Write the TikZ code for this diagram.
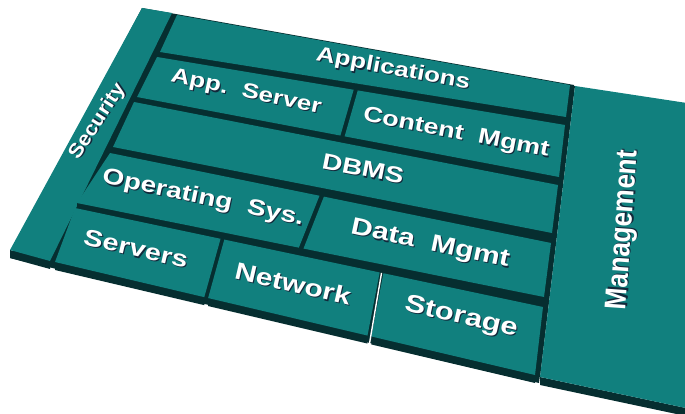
\documentclass[tikz,border=0pt]{standalone}
\usepackage{fontspec}
\setsansfont{Liberation Sans}
\usetikzlibrary{calc}
\definecolor{tealtop}{RGB}{17,128,126}
\definecolor{tealside}{RGB}{6,46,48}
\definecolor{txtshade}{RGB}{18,40,58}
\newcommand{\shtxt}[1]{\makebox[0pt][l]{\textcolor{txtshade}{\raisebox{-1.3pt}{\kern1.3pt#1}}}#1}
\newcommand{\brick}[4]{%
  \fill[brickside] (#4) -- (#3) -- ($(#3)+(0,8)$) -- ($(#4)+(0,8)$) -- cycle;
  \fill[bricktop] (#1) -- (#2) -- (#3) -- (#4) -- cycle;}
\tikzset{
  bricktop/.style={fill=tealtop},
  brickside/.style={fill=tealside},
  lbl/.style={font=\fontsize{#1}{#1}\selectfont\sffamily\bfseries, text=white, inner sep=0pt},
  flat/.style={rotate=#1, yscale=.8},
}
\begin{document}
\begin{tikzpicture}[x=1pt,y=-1pt]
\useasboundingbox (0,0) rectangle (685,414);
\clip (0,0) rectangle (685,414);
% row edges: left end at the security strip, right end at the management gap
\coordinate (a-tl) at (177,15);  \coordinate (a-tr) at (570,85);
\coordinate (a-bl) at (160,52);  \coordinate (a-br) at (566,117);
\coordinate (b-tl) at (157,57);  \coordinate (b-tr) at (565,125);
\coordinate (b-bl) at (137,97);  \coordinate (b-br) at (559,177);
\coordinate (c-tl) at (134,102); \coordinate (c-tr) at (558,185);
\coordinate (c-bl) at (113,147); \coordinate (c-br) at (552,233);
\coordinate (d-tl) at (110,153); \coordinate (d-tr) at (551,243);
\coordinate (d-bl) at (77,203);  \coordinate (d-br) at (544,297);
\coordinate (e-tl) at (75,208);  \coordinate (e-tr) at (543,307);
\coordinate (e-bl) at (55,262);  \coordinate (e-br) at (535,375);
% security strip and management block
\coordinate (s-tl) at (142,8);   \coordinate (s-tr) at (172,13);
\coordinate (s-bl) at (10,250);  \coordinate (s-br) at (50,261);
\coordinate (m-tl) at (575,86);  \coordinate (m-tr) at (700,105);
\coordinate (m-bl) at (540,377); \coordinate (m-br) at (700,411);
% split points inside the rows
\foreach \r/\t/\n in {b/.482/1, b/.492/2, d/.475/1, d/.485/2, e/.311/1, e/.319/2, e/.651/3, e/.659/4}{
  \coordinate (\r-t\n) at ($(\r-tl)!\t!(\r-tr)$);
  \coordinate (\r-b\n) at ($(\r-bl)!\t!(\r-br)$);
}
% dark base under the slab
\fill[brickside] (s-tl) -- ($(a-tr)+(4,0)$) -- ($(e-br)+(4,8)$) -- ($(s-bl)+(0,8)$) -- cycle;
% bricks
\brick{s-tl}{s-tr}{s-br}{s-bl}
\brick{a-tl}{a-tr}{a-br}{a-bl}
\brick{b-tl}{b-t1}{b-b1}{b-bl}
\brick{b-t2}{b-tr}{b-br}{b-b2}
\brick{c-tl}{c-tr}{c-br}{c-bl}
\brick{d-tl}{d-t1}{d-b1}{d-bl}
\brick{d-t2}{d-tr}{d-br}{d-b2}
\brick{e-tl}{e-t1}{e-b1}{e-bl}
\brick{e-t2}{e-t3}{e-b3}{e-b2}
\brick{e-t4}{e-tr}{e-br}{e-b4}
\fill[brickside] ($(m-tl)+(-3,0)$) -- (m-tl) -- (m-bl) -- ($(m-bl)+(-3,0)$) -- cycle;
\brick{m-tl}{m-tr}{m-br}{m-bl}
\draw[white, line width=1.4pt] ($(e-t3)!.5!(e-t4)$) -- ($($(e-b3)!.5!(e-b4)$)+(0,8)$);
% labels
\node[lbl=26, flat=-10.5] (apps) at (393,70) {\shtxt{Applications}};
\node[lbl=26, flat=-12] (appsrv) at (246,93) {\shtxt{App.\ \ Server}};
\node[lbl=27, flat=-11] (content) at (456,134) {\shtxt{Content\ \ Mgmt}};
\node[lbl=28, flat=-11] (dbms) at (363,169) {\shtxt{DBMS}};
\node[lbl=28, flat=-12] (opsys) at (203,199) {\shtxt{Operating\ \ Sys.}};
\node[lbl=30, flat=-12] (datamg) at (430,245) {\shtxt{Data\ \ Mgmt}};
\node[lbl=29, flat=-13] (servers) at (136,249) {\shtxt{Servers}};
\node[lbl=30, flat=-13] (network) at (293,284) {\shtxt{Network}};
\node[lbl=31, flat=-13] (storage) at (461,318) {\shtxt{Storage}};
\node[lbl=22, rotate=57, yscale=.9] (security) at (98,122) {\shtxt{Security}};
\node[lbl=30, rotate=86, xscale=.87] (mgmt) at (625,230) {\shtxt{Management}};
\end{tikzpicture}
\end{document}
